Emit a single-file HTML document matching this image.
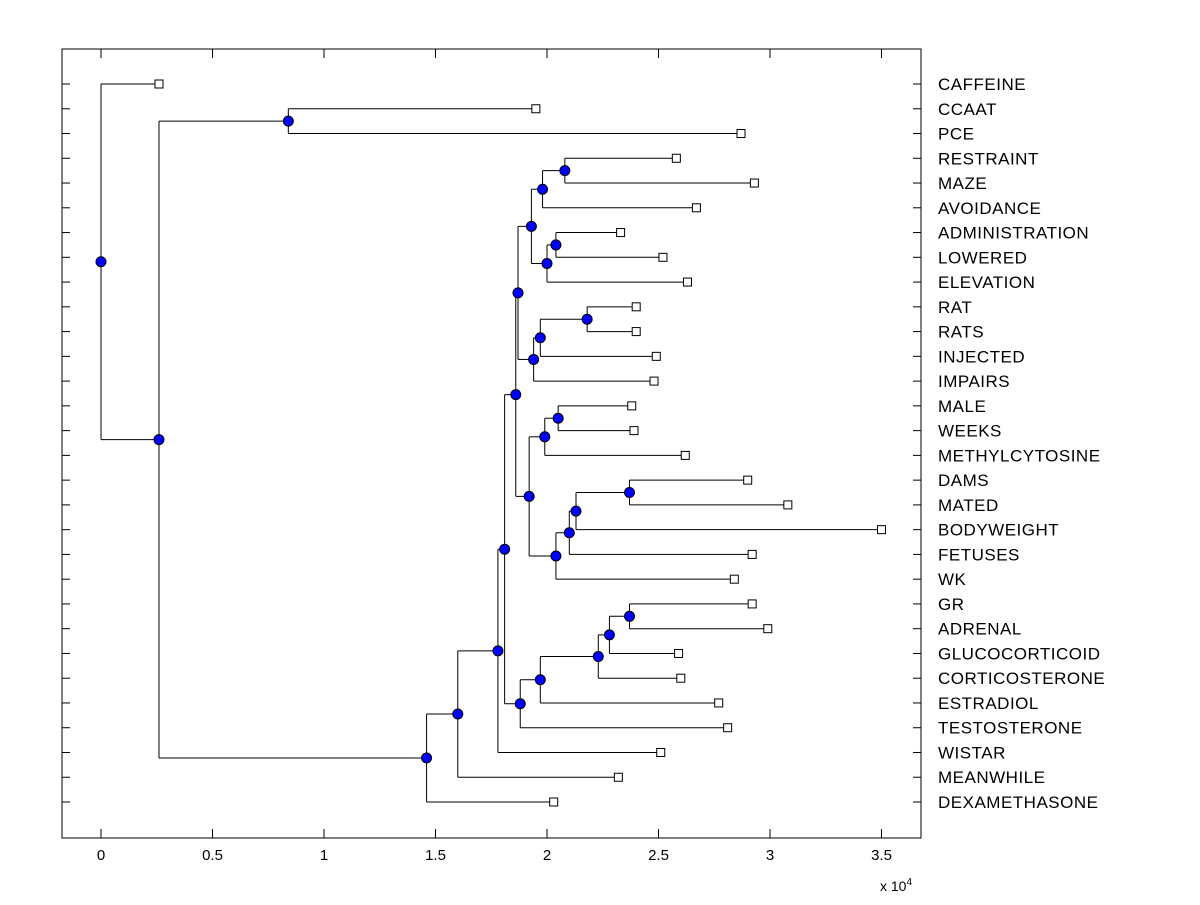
<!DOCTYPE html>
<html><head><meta charset="utf-8"><style>
body{margin:0;background:#fff;}
svg text{font-family:"Liberation Sans",Arial,sans-serif;}
</style></head><body>
<svg id="chart" width="1200" height="900" viewBox="0 0 1200 900" xmlns="http://www.w3.org/2000/svg">
<rect x="0" y="0" width="1200" height="900" fill="#fff"/>
<g id="plot"></g>
</svg>
<script>
const leafNames = ["CAFFEINE","CCAAT","PCE","RESTRAINT","MAZE","AVOIDANCE","ADMINISTRATION","LOWERED","ELEVATION","RAT","RATS","INJECTED","IMPAIRS","MALE","WEEKS","METHYLCYTOSINE","DAMS","MATED","BODYWEIGHT","FETUSES","WK","GR","ADRENAL","GLUCOCORTICOID","CORTICOSTERONE","ESTRADIOL","TESTOSTERONE","WISTAR","MEANWHILE","DEXAMETHASONE"];
const leafValues = [0.26,1.95,2.87,2.58,2.93,2.67,2.33,2.52,2.63,2.40,2.40,2.49,2.48,2.38,2.39,2.62,2.90,3.08,3.50,2.92,2.84,2.92,2.99,2.59,2.60,2.77,2.81,2.51,2.32,2.03];
const nodeNames = ["root","A","B","C","D","E","F","G","I","K","M","O","N","P","L","Q","R","J","S","U","T","V","W","X","H","Y","Z","AA","AB"];
const nodeValues = [0,0.26,0.84,1.46,1.60,1.78,1.81,1.86,1.87,1.93,1.98,2.08,2.00,2.04,1.94,1.97,2.18,1.92,1.99,2.05,2.04,2.10,2.13,2.37,1.88,1.97,2.23,2.28,2.37];
const nodeChildren = [["CAFFEINE","A"],["B","C"],["CCAAT","PCE"],["D","DEXAMETHASONE"],["E","MEANWHILE"],["F","WISTAR"],["G","H"],["I","J"],["K","L"],["M","N"],["O","AVOIDANCE"],["RESTRAINT","MAZE"],["P","ELEVATION"],["ADMINISTRATION","LOWERED"],["Q","IMPAIRS"],["R","INJECTED"],["RAT","RATS"],["S","T"],["U","METHYLCYTOSINE"],["MALE","WEEKS"],["V","WK"],["W","FETUSES"],["X","BODYWEIGHT"],["DAMS","MATED"],["Y","TESTOSTERONE"],["Z","ESTRADIOL"],["AA","CORTICOSTERONE"],["AB","GLUCOCORTICOID"],["GR","ADRENAL"]];
const xTicks = [0,0.5,1,1.5,2,2.5,3,3.5];
const xTickLabels = ["0","0.5","1","1.5","2","2.5","3","3.5"];

const L=62,R=921,T=49,B=838;
const X0=101, PX=223;
function xs(v){return X0+v*PX;}
const rowTop=84, rowStep=(802-84)/29;
function ys(i){return rowTop+i*rowStep;}
const NS="http://www.w3.org/2000/svg";
const g=document.getElementById('plot');
function mk(tag,attrs,parent){const e=document.createElementNS(NS,tag);for(const k in attrs)e.setAttribute(k,attrs[k]);(parent||g).appendChild(e);return e;}

const box=mk('rect',{x:L,y:T,width:R-L,height:B-T,fill:'none',stroke:'#000','stroke-width':1});



xTicks.forEach((t,i)=>{
  const x=xs(t);
  const a=mk('line',{x1:x,y1:B,x2:x,y2:B-9,stroke:'#000'});
  
  
  const b=mk('line',{x1:x,y1:T,x2:x,y2:T+9,stroke:'#000'});
  
  
  const tx=mk('text',{x:x,y:860,'text-anchor':'middle','font-size':15});
  tx.textContent=xTickLabels[i];
  
  
});
const ex=mk('text',{x:880,y:891,'font-size':14});
ex.innerHTML='x 10<tspan dy="-6" font-size="10">4</tspan>';



const pos={};
leafNames.forEach((n,i)=>{
  const y=ys(i);
  pos[n]={x:xs(leafValues[i]),y:y,leaf:true};
  const a=mk('line',{x1:L,y1:y,x2:L+8,y2:y,stroke:'#000'});
  
  
  const b=mk('line',{x1:R,y1:y,x2:R-8,y2:y,stroke:'#000'});
  
  
  const t=mk('text',{x:938,y:y+6,'font-size':17,'letter-spacing':0.5});
  t.textContent=n;
  
  
});
function resolve(name){
  if(pos[name])return pos[name];
  const i=nodeNames.indexOf(name);
  const c=nodeChildren[i].map(resolve);
  pos[name]={x:xs(nodeValues[i]),y:(c[0].y+c[1].y)/2,leaf:false,ch:c};
  return pos[name];
}
resolve('root');
const lines=mk('g',{});
const marks=mk('g',{});
nodeNames.forEach(n=>{
  const p=pos[n];
  const v=mk('line',{x1:p.x,y1:p.ch[0].y,x2:p.x,y2:p.ch[1].y,stroke:'#000','stroke-width':1},lines);
  
  
  p.ch.forEach(c=>{
    const h=mk('line',{x1:p.x,y1:c.y,x2:c.x,y2:c.y,stroke:'#000','stroke-width':1},lines);
    
    
  });
});
nodeNames.forEach(n=>{
  const p=pos[n];
  const c=mk('circle',{cx:p.x,cy:p.y,r:5,fill:'#0000ff',stroke:'#000','stroke-width':1},marks);
  
  
});
leafNames.forEach(n=>{
  const p=pos[n];
  const s=mk('rect',{x:p.x-4,y:p.y-4,width:8,height:8,fill:'#fff',stroke:'#000','stroke-width':1},marks);
  
  
});
</script>
</body></html>
